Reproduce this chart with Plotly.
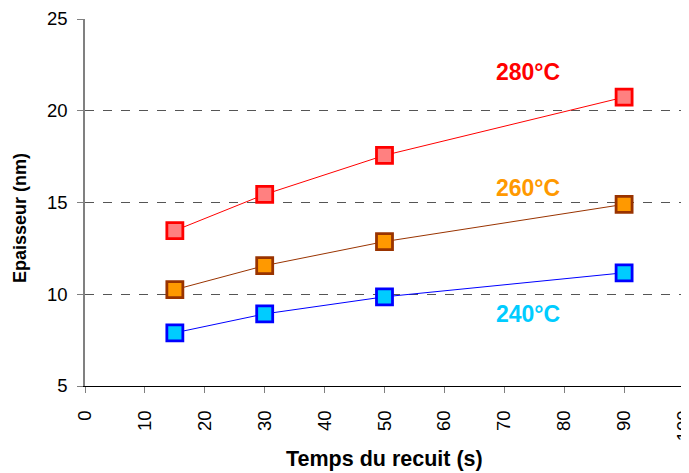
import plotly.graph_objects as go

temps = [15, 30, 50, 90]
ep_280 = [13.47, 15.44, 17.57, 20.74]
ep_260 = [10.25, 11.56, 12.87, 14.9]
ep_240 = [7.9, 8.93, 9.86, 11.17]
labels = ["280°C", "260°C", "240°C"]
label_y = [22.1, 15.8, 8.92]
label_x = 74

series = [
    (ep_280, "#FF8080", "#FF0000", "#FF0000", "#FF0000"),
    (ep_260, "#FF9900", "#993300", "#993300", "#FF9900"),
    (ep_240, "#00CCFF", "#0000FF", "#0000FF", "#00CCFF"),
]

fig = go.Figure()
for vals, fill, border, linec, txtc in series:
    fig.add_trace(go.Scatter(
        x=temps, y=vals, mode="lines+markers",
        line=dict(color=linec, width=1),
        marker=dict(symbol="square", size=16, color=fill,
                    line=dict(color=border, width=2.8)),
        showlegend=False,
    ))

for lab, ly, (vals, fill, border, linec, txtc) in zip(labels, label_y, series):
    fig.add_annotation(x=label_x, y=ly, text="<b>" + lab + "</b>", showarrow=False,
                       font=dict(family="Liberation Sans, Arial", size=23, color=txtc),
                       xanchor="center", yanchor="middle")

fig.add_annotation(xref="paper", yref="paper", x=-0.1085, y=0.458,
                   text="<b>Epaisseur (nm)</b>", textangle=-90, showarrow=False,
                   font=dict(family="Liberation Sans, Arial", size=18, color="black"),
                   xanchor="center", yanchor="middle")
fig.add_annotation(xref="paper", yref="paper", x=0.5008, y=-0.199,
                   text="<b>Temps du recuit (s)</b>", showarrow=False,
                   font=dict(family="Liberation Sans, Arial", size=21.5, color="black"),
                   xanchor="center", yanchor="middle")

# page body has an 8px margin: shift the figure so the plot area lands at 85..684 x 19..386
fig.update_layout(
    width=681, height=465,
    margin=dict(l=77, r=5, t=11, b=87, autoexpand=False),
    plot_bgcolor="white", paper_bgcolor="white",
    font=dict(family="Liberation Sans, Arial", size=18, color="black"),
    xaxis=dict(range=[0, 100], dtick=10, tick0=0, tickangle=-90,
               showgrid=False, zeroline=False, showline=True, automargin=False,
               linecolor="black", linewidth=1, ticks="outside",
               ticklen=6, tickcolor="#808080", tickfont=dict(size=18.5),
               ticklabelstandoff=10, ticklabeloverflow="allow"),
    yaxis=dict(range=[5, 25], dtick=5, tick0=5, automargin=False,
               showgrid=True, gridcolor="#555555", griddash="dash", gridwidth=1,
               zeroline=False, showline=True, linecolor="#808080", linewidth=1.5,
               ticks="outside", ticklen=6, tickcolor="#808080",
               tickfont=dict(size=18.5), ticklabelstandoff=6),
)

fig.write_html("out.html")
